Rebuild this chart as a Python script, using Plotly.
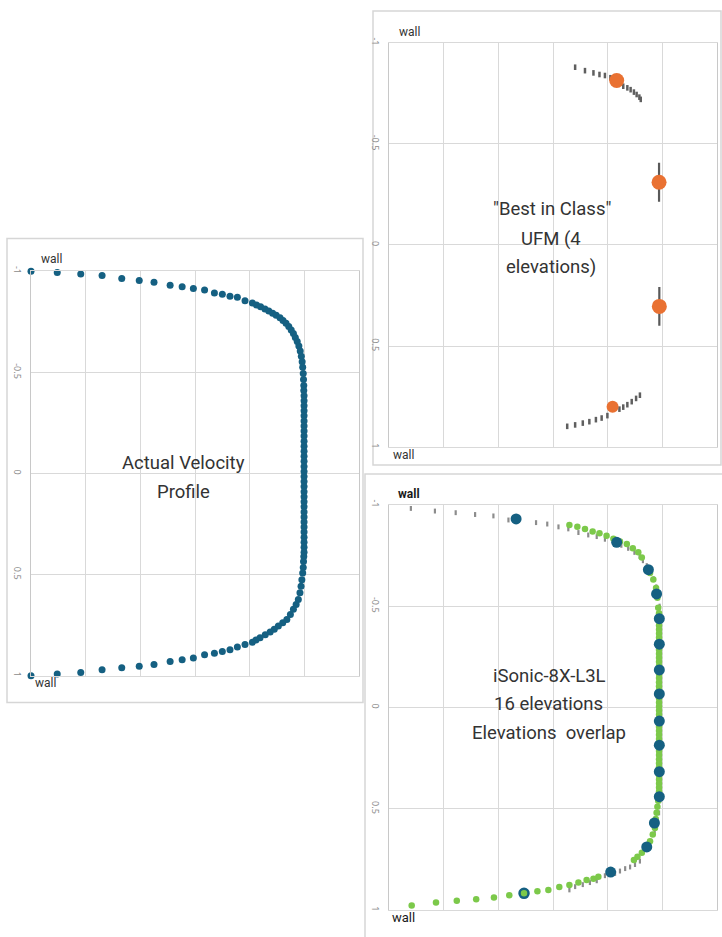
import plotly.graph_objects as go

W, H = 722, 937

# ---------------- data ----------------
# Panel 1: actual velocity profile (normalised velocity vs. normalised position)
p1_vel = [0.000, 0.096, 0.182, 0.260, 0.332, 0.396, 0.450, 0.509, 0.553, 0.594,
          0.635, 0.671, 0.700, 0.728, 0.755, 0.783, 0.810, 0.825, 0.840, 0.856,
          0.870, 0.884, 0.897, 0.911, 0.922, 0.933, 0.943, 0.952, 0.960, 0.967,
          0.974, 0.980, 0.985, 0.989, 0.992, 0.994, 0.996, 0.997, 0.998,
          # plateau (34)
          0.998, 0.999, 0.999, 0.999, 0.999, 0.999, 0.999, 0.999, 0.999, 0.999,
          0.999, 0.999, 0.999, 0.999, 0.999, 0.999, 0.999, 0.999, 0.999, 0.999,
          0.999, 0.999, 0.999, 0.999, 0.999, 0.999, 0.999, 0.999, 0.999, 0.999,
          0.999, 0.999, 0.999, 0.998,
          # lower half (35)
          0.997, 0.996, 0.994, 0.991, 0.988, 0.984, 0.978, 0.970, 0.960, 0.949,
          0.936, 0.921, 0.905, 0.890, 0.875, 0.857, 0.838, 0.823, 0.810, 0.783,
          0.755, 0.728, 0.700, 0.671, 0.635, 0.594, 0.553, 0.509, 0.450, 0.396,
          0.332, 0.260, 0.182, 0.096, 0.000]
p1_pos = [-1.000, -0.994, -0.987, -0.979, -0.964, -0.954, -0.946, -0.931, -0.923, -0.915,
          -0.908, -0.893, -0.886, -0.877, -0.871, -0.854, -0.843, -0.833, -0.824, -0.813,
          -0.804, -0.793, -0.782, -0.770, -0.757, -0.743, -0.727, -0.710, -0.692, -0.673,
          -0.653, -0.630, -0.606, -0.580, -0.553, -0.525, -0.495, -0.465, -0.435,
          # plateau (34)
          -0.410, -0.385, -0.360, -0.335, -0.310, -0.285, -0.260, -0.235, -0.210, -0.185,
          -0.160, -0.135, -0.110, -0.085, -0.060, -0.035, -0.010, 0.015, 0.040, 0.065,
          0.090, 0.115, 0.140, 0.165, 0.190, 0.215, 0.240, 0.265, 0.290, 0.315,
          0.340, 0.365, 0.390, 0.410,
          # lower half (35)
          0.435, 0.465, 0.492, 0.525, 0.558, 0.590, 0.623, 0.648, 0.672, 0.697,
          0.722, 0.738, 0.754, 0.770, 0.784, 0.798, 0.812, 0.823, 0.835, 0.846,
          0.858, 0.872, 0.881, 0.889, 0.897, 0.913, 0.921, 0.930, 0.945, 0.953,
          0.961, 0.971, 0.984, 0.992, 1.000]

# Panel 2: "Best in Class" UFM, 4 elevations
ufm_vel = [0.833, 0.988, 0.989, 0.818]
ufm_pos = [-0.813, -0.310, 0.304, 0.800]
ufm_err = [0.0, 0.096, 0.096, 0.0]
ufm_size = [15, 15, 15, 12]

ufm_ref_vel = [0.681, 0.717, 0.748, 0.770, 0.790, 0.810, 0.857, 0.872, 0.884, 0.896, 0.906, 0.916, 0.921,
               0.652, 0.681, 0.709, 0.733, 0.757, 0.778, 0.799, 0.843, 0.857, 0.872, 0.888, 0.904, 0.918]
ufm_ref_pos = [-0.879, -0.862, -0.851, -0.843, -0.838, -0.827, -0.785, -0.777, -0.768, -0.756, -0.744, -0.731, -0.720,
               0.897, 0.890, 0.881, 0.874, 0.864, 0.856, 0.844, 0.812, 0.802, 0.790, 0.775, 0.759, 0.743]

# Panel 3: iSonic-8X-L3L, 16 elevations
iso_vel = [0.465, 0.833, 0.949, 0.979, 0.989, 0.989, 0.989, 0.989,
           0.989, 0.989, 0.989, 0.989, 0.971, 0.943, 0.811, 0.494]
iso_pos = [-0.930, -0.815, -0.680, -0.560, -0.438, -0.312, -0.185, -0.067,
           0.067, 0.186, 0.317, 0.440, 0.570, 0.688, 0.812, 0.917]

iso_ref_vel = [0.080, 0.168, 0.244, 0.315, 0.382, 0.437, 0.538, 0.579, 0.620, 0.656, 0.693, 0.729, 0.760,
               0.790, 0.820, 0.850, 0.875, 0.898, 0.917, 0.929, 0.943, 0.956, 0.968, 0.978, 0.985, 0.990,
               0.992, 0.992, 0.992, 0.992, 0.992, 0.992, 0.992, 0.992, 0.992, 0.992, 0.992, 0.992, 0.992,
               0.992, 0.992, 0.992,
               0.988, 0.982, 0.972, 0.958, 0.940, 0.918, 0.900, 0.882, 0.864, 0.845, 0.827, 0.790,
               0.760, 0.735, 0.709, 0.681, 0.660]
iso_ref_pos = [-0.982, -0.969, -0.961, -0.952, -0.945, -0.925, -0.912, -0.905, -0.891, -0.881, -0.863, -0.851,
               -0.843, -0.830, -0.816, -0.800, -0.785, -0.765, -0.745, -0.724, -0.700, -0.670, -0.635, -0.595,
               -0.550, -0.500, -0.440, -0.380, -0.320, -0.260, -0.200, -0.140, -0.080, -0.020, 0.040, 0.100,
               0.160, 0.220, 0.280, 0.340, 0.400, 0.460,
               0.520, 0.570, 0.610, 0.660, 0.700, 0.758, 0.775, 0.787, 0.795, 0.807, 0.819, 0.830,
               0.855, 0.864, 0.874, 0.884, 0.900]

iso_meas_vel = [0.660, 0.689, 0.717, 0.745, 0.770, 0.796, 0.821, 0.845, 0.870, 0.892,
                0.912, 0.925, 0.955, 0.967, 0.977, 0.982, 0.985,
                # plateau (46)
                0.988, 0.988, 0.988, 0.988, 0.988, 0.988, 0.988, 0.988, 0.988, 0.988,
                0.988, 0.988, 0.988, 0.988, 0.988, 0.988, 0.988, 0.988, 0.988, 0.988,
                0.988, 0.988, 0.988, 0.988, 0.988, 0.988, 0.988, 0.988, 0.988, 0.988,
                0.988, 0.988, 0.988, 0.988, 0.988, 0.988, 0.988, 0.988, 0.988, 0.988,
                0.988, 0.988, 0.988, 0.988, 0.988, 0.988,
                # lower knee (11)
                0.985, 0.982, 0.979, 0.976, 0.973, 0.965, 0.955, 0.940, 0.925, 0.909, 0.896,
                # lower wall side (15)
                0.766, 0.748, 0.723, 0.693, 0.660, 0.623, 0.583, 0.543, 0.494, 0.440,
                0.384, 0.319, 0.248, 0.172, 0.083]
iso_meas_pos = [-0.900, -0.892, -0.881, -0.868, -0.860, -0.847, -0.832, -0.819, -0.806, -0.786,
                -0.766, -0.740, -0.663, -0.631, -0.590, -0.541, -0.492,
                # plateau (46)
                -0.465, -0.445, -0.425, -0.405, -0.385, -0.365, -0.345, -0.325, -0.305, -0.285,
                -0.265, -0.245, -0.225, -0.205, -0.185, -0.165, -0.145, -0.125, -0.105, -0.085,
                -0.065, -0.045, -0.025, -0.005, 0.015, 0.035, 0.055, 0.075, 0.095, 0.115,
                0.135, 0.155, 0.175, 0.195, 0.215, 0.235, 0.255, 0.275, 0.295, 0.315,
                0.335, 0.355, 0.375, 0.395, 0.415, 0.435,
                # lower knee (11)
                0.460, 0.490, 0.520, 0.550, 0.595, 0.627, 0.660, 0.693, 0.717, 0.737, 0.753,
                # lower wall side (15)
                0.835, 0.845, 0.851, 0.864, 0.876, 0.886, 0.900, 0.907, 0.917, 0.926,
                0.938, 0.946, 0.954, 0.962, 0.977]

y_tickvals = [-1, -0.5, 0, 0.5, 1]
y_ticktext = ["-1", "-0.5", "0", "0.5", "1"]

# ---------------- styles ----------------
BLUE = "#156082"
ORANGE = "#E97132"
GREEN = "#7CC94A"
GRID = "#d9d9d9"
TXT = "#333333"


def fx(px):
    return px / W


def fy(py):
    return 1 - py / H


fig = go.Figure()

# Panel 1
fig.add_trace(go.Scatter(x=p1_vel, y=p1_pos, mode="markers", xaxis="x", yaxis="y",
                         marker=dict(color=BLUE, size=7, opacity=1, line=dict(width=0)), cliponaxis=False,
                         showlegend=False, hoverinfo="skip"))

# Panel 2
fig.add_trace(go.Scatter(x=ufm_ref_vel, y=ufm_ref_pos, mode="markers", xaxis="x2", yaxis="y2",
                         marker=dict(symbol="line-ns", size=4, color="#5f5f5f", opacity=1,
                                     line=dict(color="#5f5f5f", width=2.5)),
                         cliponaxis=False, showlegend=False, hoverinfo="skip"))
fig.add_trace(go.Scatter(x=ufm_vel, y=ufm_pos, mode="markers", xaxis="x2", yaxis="y2",
                         error_y=dict(type="data", array=ufm_err, color="#595959", thickness=2.2, width=0),
                         marker=dict(color=ORANGE, size=ufm_size, opacity=1, line=dict(width=0)),
                         cliponaxis=False, showlegend=False, hoverinfo="skip"))

# Panel 3
fig.add_trace(go.Scatter(x=iso_ref_vel, y=iso_ref_pos, mode="markers", xaxis="x3", yaxis="y3",
                         marker=dict(symbol="line-ns", size=3.5, color="#8c8c8c", opacity=1,
                                     line=dict(color="#8c8c8c", width=2.2)),
                         cliponaxis=False, showlegend=False, hoverinfo="skip"))
fig.add_trace(go.Scatter(x=iso_meas_vel, y=iso_meas_pos, mode="markers", xaxis="x3", yaxis="y3",
                         marker=dict(color=GREEN, size=6.5, opacity=1, line=dict(width=0)),
                         cliponaxis=False, showlegend=False, hoverinfo="skip"))
blue_fill = [BLUE] * (len(iso_vel) - 1) + [GREEN]
blue_lw = [0] * (len(iso_vel) - 1) + [2.5]
blue_sz = [11] * (len(iso_vel) - 1) + [9]
fig.add_trace(go.Scatter(x=iso_vel, y=iso_pos, mode="markers", xaxis="x3", yaxis="y3",
                         marker=dict(color=blue_fill, size=blue_sz, opacity=1,
                                     line=dict(width=blue_lw, color=BLUE)),
                         cliponaxis=False, showlegend=False, hoverinfo="skip"))


def xax(dom):
    return dict(domain=dom, range=[0, 1.2], tick0=0, dtick=0.2, showticklabels=False, ticks="",
                showgrid=True, gridcolor=GRID, gridwidth=1, zeroline=False,
                showline=True, mirror=True, linecolor=GRID, linewidth=1, fixedrange=True)


def yax(dom, anchor):
    return dict(domain=dom, range=[1, -1], tickvals=y_tickvals, ticktext=y_ticktext, tickangle=90,
                tickfont=dict(family="Noto Sans", size=9, color="#8c8c8c"), ticks="",
                showgrid=True, gridcolor=GRID, gridwidth=1, zeroline=False,
                showline=True, mirror=True, linecolor="#c8c8c8", linewidth=1, anchor=anchor,
                ticklabelstandoff=5, fixedrange=True)


# plot-area pixel boxes
p1 = (31, 359, 268, 675)
p2 = (389, 717, 38, 445)
p3 = (389, 717, 503, 911)

fig.update_layout(
    width=W, height=H, margin=dict(l=0, r=0, t=0, b=0),
    paper_bgcolor="white", plot_bgcolor="white",
    xaxis=xax([fx(p1[0]), fx(p1[1])]), yaxis=yax([fy(p1[3]), fy(p1[2])], "x"),
    xaxis2=xax([fx(p2[0]), fx(p2[1])]), yaxis2=yax([fy(p2[3]), fy(p2[2])], "x2"),
    xaxis3=xax([fx(p3[0]), fx(p3[1])]), yaxis3=yax([fy(p3[3]), fy(p3[2])], "x3"),
)
fig.layout.xaxis2.anchor = "y2"
fig.layout.xaxis3.anchor = "y3"
fig.layout.xaxis.anchor = "y"

# panel frames
frames = [(7, 363, 235, 702), (373, 721, 6, 463), (365, 723, 472, 940)]
for (x0, x1, y0, y1) in frames:
    fig.add_shape(type="rect", xref="paper", yref="paper", x0=fx(x0), x1=fx(x1), y0=fy(y1), y1=fy(y0),
                  line=dict(color="#d6d6d6", width=1.5), fillcolor="rgba(0,0,0,0)", layer="below")

anns = [
    ("wall", 51.5, 255.5, 12, TXT),
    ("wall", 45, 682, 12, TXT),
    ("wall", 409, 27, 12, TXT),
    ("wall", 403.5, 452.5, 12, TXT),
    ("<b>wall</b>", 409, 492, 12, "#1a1a1a"),
    ("wall", 403.5, 918.5, 13, "#1a1a1a"),
    ("Actual Velocity", 183, 461, 18.5, TXT),
    ("Profile", 183, 490, 18.5, TXT),
    ("\"Best in Class\"", 552, 205, 18.5, TXT),
    ("UFM (4", 551, 236, 18.5, TXT),
    ("elevations)", 551, 264, 18.5, TXT),
    ("iSonic-8X-L3L", 549, 675, 18.5, TXT),
    ("16 elevations", 548, 704, 18.5, TXT),
    ("Elevations  overlap", 549, 733, 18.5, TXT),
]
for (t, x, y, s, c) in anns:
    fig.add_annotation(text=t, x=fx(x), y=fy(y), xref="paper", yref="paper", showarrow=False,
                       xanchor="center", yanchor="middle",
                       font=dict(family="Roboto", size=s, color=c))

fig.write_html("out.html")
